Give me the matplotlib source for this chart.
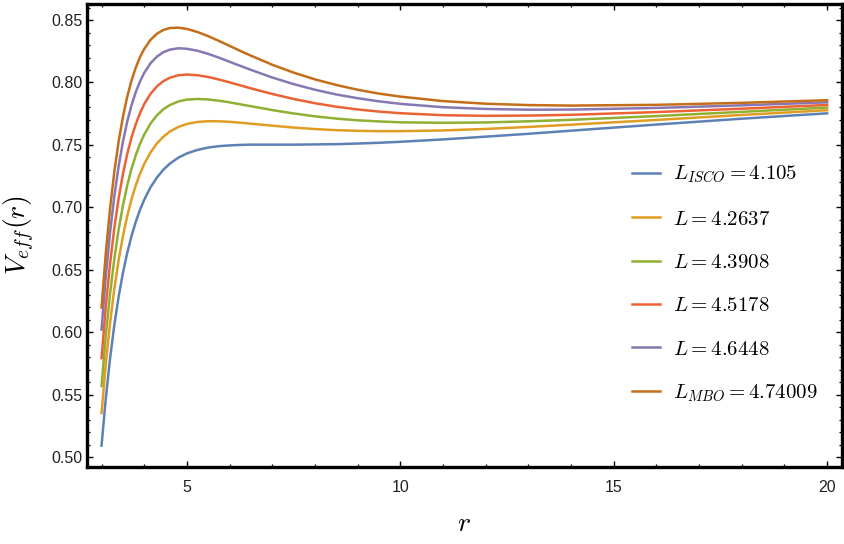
import matplotlib
matplotlib.use("Agg")
import matplotlib.pyplot as plt
from matplotlib.ticker import MultipleLocator

plt.rcParams['mathtext.fontset'] = 'cm'

# radius samples (x axis)
r = [3.0, 3.1, 3.2, 3.3, 3.4, 3.5, 3.6, 3.7, 3.8, 3.9, 4.0, 4.15, 4.3, 4.45, 4.6, 4.8,
     5.0, 5.25, 5.5, 5.75, 6.0, 6.25, 6.5, 7.0, 7.5, 8.0, 8.5, 9.0, 9.5,
     10.0, 11.0, 12.0, 13.0, 14.0, 16.0, 18.0, 20.0]

# effective potential, one list per angular momentum
v_isco = [0.5091, 0.5472, 0.5791, 0.6059, 0.6284, 0.6473, 0.6633, 0.6768, 0.6882, 0.6979, 0.7061,
          0.7162, 0.7240, 0.7302, 0.7350, 0.7398, 0.7432, 0.7460, 0.7479, 0.7490, 0.7496, 0.7500,
          0.7502, 0.7502, 0.7502, 0.7504, 0.7506, 0.7511, 0.7517, 0.7525, 0.7544, 0.7566, 0.7589,
          0.7614, 0.7663, 0.7710, 0.7753]
v_l2 = [0.5352, 0.5747, 0.6075, 0.6349, 0.6577, 0.6768, 0.6928, 0.7062, 0.7174, 0.7268, 0.7347,
        0.7441, 0.7513, 0.7566, 0.7607, 0.7644, 0.7668, 0.7684, 0.7690, 0.7689, 0.7685, 0.7678,
        0.7670, 0.7654, 0.7639, 0.7627, 0.7618, 0.7613, 0.7610, 0.7610, 0.7616, 0.7628, 0.7644,
        0.7662, 0.7700, 0.7740, 0.7778]
v_l3 = [0.5569, 0.5974, 0.6310, 0.6589, 0.6821, 0.7013, 0.7173, 0.7306, 0.7416, 0.7508, 0.7583,
        0.7672, 0.7738, 0.7786, 0.7819, 0.7848, 0.7863, 0.7868, 0.7864, 0.7854, 0.7841, 0.7825,
        0.7810, 0.7779, 0.7752, 0.7729, 0.7711, 0.7697, 0.7688, 0.7681, 0.7677, 0.7680, 0.7689,
        0.7701, 0.7731, 0.7765, 0.7799]
v_l4 = [0.5792, 0.6208, 0.6552, 0.6836, 0.7071, 0.7265, 0.7425, 0.7557, 0.7665, 0.7754, 0.7827,
        0.7910, 0.7970, 0.8011, 0.8038, 0.8058, 0.8064, 0.8058, 0.8044, 0.8024, 0.8001, 0.7977,
        0.7953, 0.7908, 0.7868, 0.7834, 0.7806, 0.7784, 0.7767, 0.7754, 0.7738, 0.7733, 0.7735,
        0.7741, 0.7763, 0.7790, 0.7820]
v_l5 = [0.6021, 0.6449, 0.6801, 0.7090, 0.7328, 0.7524, 0.7684, 0.7815, 0.7921, 0.8007, 0.8077,
        0.8155, 0.8208, 0.8243, 0.8263, 0.8274, 0.8270, 0.8254, 0.8229, 0.8199, 0.8166, 0.8133,
        0.8101, 0.8040, 0.7987, 0.7942, 0.7904, 0.7874, 0.7849, 0.7829, 0.7802, 0.7788, 0.7782,
        0.7783, 0.7796, 0.7817, 0.7841]
v_mbo = [0.6197, 0.6634, 0.6992, 0.7286, 0.7526, 0.7723, 0.7883, 0.8013, 0.8118, 0.8202, 0.8269,
         0.8343, 0.8391, 0.8421, 0.8436, 0.8439, 0.8429, 0.8404, 0.8371, 0.8333, 0.8293, 0.8253,
         0.8215, 0.8142, 0.8079, 0.8025, 0.7980, 0.7942, 0.7911, 0.7887, 0.7851, 0.7830, 0.7819,
         0.7815, 0.7821, 0.7837, 0.7858]

labels = [r'$L_{ISCO} = 4.105$', r'$L = 4.2637$', r'$L = 4.3908$',
          r'$L = 4.5178$', r'$L = 4.6448$', r'$L_{MBO} = 4.74009$']
colors = ['#5E81B5', '#E19C24', '#8FB032', '#EB6235', '#8778B3', '#C56E1A']
series = [v_isco, v_l2, v_l3, v_l4, v_l5, v_mbo]

fig = plt.figure(figsize=(8.45, 5.44), dpi=100)
ax = fig.add_axes([0.103, 0.1415, 0.893, 0.851])

for v, c, lab in zip(series, colors, labels):
    ax.plot(r, v, color=c, lw=1.8, label=lab, solid_joinstyle='round')

ax.set_xlim(2.66, 20.34)
ax.set_ylim(0.492, 0.8628)

ax.xaxis.set_major_locator(MultipleLocator(5))
ax.xaxis.set_minor_locator(MultipleLocator(1))
ax.yaxis.set_major_locator(MultipleLocator(0.05))
ax.yaxis.set_minor_locator(MultipleLocator(0.01))
ax.yaxis.set_major_formatter(plt.FormatStrFormatter('%.2f'))

for s in ax.spines.values():
    s.set_linewidth(2.4)

ax.tick_params(which='both', direction='in', top=True, right=True,
               labelsize=11.5, labelcolor='#222222', labelfontfamily='Liberation Sans')
ax.tick_params(which='major', length=4.5, width=1.0)
ax.tick_params(which='minor', length=2.5, width=0.9)
ax.tick_params(axis='x', which='both', pad=9)
ax.tick_params(axis='y', which='both', pad=3)

ax.set_xlabel(r'$r$', fontsize=20)
ax.set_ylabel(r'$V_{eff}(r)$', fontsize=20)
ax.xaxis.set_label_coords(0.5, -0.121)
ax.yaxis.set_label_coords(-0.09, 0.5)
ax.yaxis.label.set_va('center')
ax.xaxis.label.set_va('center')

ax.legend(loc='upper left', bbox_to_anchor=(0.722, 0.655), frameon=False,
          fontsize=15, handlelength=1.35, handletextpad=0.62, labelspacing=1.12,
          borderpad=0, borderaxespad=0)

fig.savefig('out.png', dpi=100)
